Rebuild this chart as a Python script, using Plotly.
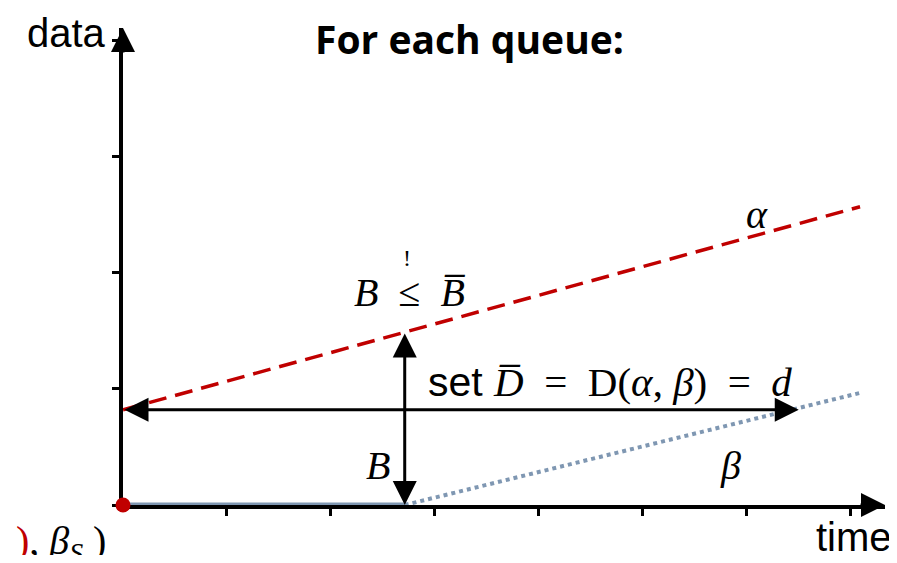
import plotly.graph_objects as go

# ---- data (axis units) ----
alpha_x = [0.0, 7.09]
alpha_y = [0.82, 2.57]
beta_flat_x = [0.0, 2.71]
beta_flat_y = [0.0, 0.0]
beta_rise_x = [2.71, 7.09]
beta_rise_y = [0.0, 0.966]
delay_y = 0.82          # horizontal delay arrow level
delay_end_x = 6.50      # where beta reaches alpha(0)
backlog_x = 2.71        # vertical backlog arrow position
backlog_top = 1.49      # alpha at backlog_x
x_ticks = [1, 2, 3, 4, 5, 6, 7]
y_ticks = [0, 1, 2, 3, 4]
x_max = 7.33
y_max = 4.11

RED = "#C00000"
BLUE = "#7F97B2"
SANS = "Liberation Sans, Arial, sans-serif"
SERIF = "Liberation Serif, DejaVu Serif, serif"
NB = "\u00a0"

fig = go.Figure()
fig.add_trace(go.Scatter(x=alpha_x, y=alpha_y, mode="lines",
                         line=dict(color=RED, width=3.5, dash="18px,9px"),
                         cliponaxis=False, hoverinfo="skip"))
fig.add_trace(go.Scatter(x=beta_flat_x, y=beta_flat_y, mode="lines",
                         line=dict(color=BLUE, width=5),
                         cliponaxis=False, hoverinfo="skip"))
fig.add_trace(go.Scatter(x=beta_rise_x, y=beta_rise_y, mode="lines",
                         line=dict(color=BLUE, width=4, dash="4px,4px"),
                         cliponaxis=False, hoverinfo="skip"))
fig.add_trace(go.Scatter(x=[0], y=[0], mode="markers",
                         marker=dict(color=RED, size=15),
                         cliponaxis=False, hoverinfo="skip"))

ann = []
AS = 1.6
# axis arrowheads
ann.append(dict(x=x_max, y=0, ax=-26, ay=0, xref="x", yref="y",
                showarrow=True, arrowhead=2, arrowsize=AS, arrowwidth=3,
                arrowcolor="black", text=""))
ann.append(dict(x=0, y=y_max, ax=0, ay=26, xref="x", yref="y",
                showarrow=True, arrowhead=2, arrowsize=AS, arrowwidth=3,
                arrowcolor="black", text=""))
# delay double arrow
ann.append(dict(x=delay_end_x, y=delay_y, ax=0, ay=delay_y,
                axref="x", ayref="y", xref="x", yref="y",
                showarrow=True, arrowhead=2, startarrowhead=2,
                arrowside="end+start", arrowsize=AS, startarrowsize=AS,
                arrowwidth=3, arrowcolor="black", text=""))
# backlog double arrow
ann.append(dict(x=backlog_x, y=0, ax=backlog_x, ay=backlog_top,
                axref="x", ayref="y", xref="x", yref="y",
                showarrow=True, arrowhead=2, startarrowhead=2,
                arrowside="end+start", arrowsize=AS, startarrowsize=AS,
                arrowwidth=3, arrowcolor="black", text=""))

def txt(x, y, t, size, family=SERIF, color="black", xref="x", yref="y",
        xanchor="center", yanchor="middle"):
    ann.append(dict(x=x, y=y, xref=xref, yref=yref, text=t, showarrow=False,
                    font=dict(size=size, family=family, color=color),
                    xanchor=xanchor, yanchor=yanchor))

txt(0.455, 0.979, "<b>For each queue:</b>", 39, family="Open Sans, sans-serif",
    xref="paper", yref="paper")
txt(-0.0197, 0.990, "data", 40, family=SANS, xref="paper", yref="paper",
    xanchor="right")
txt(0.959, -0.068, "time", 40, family=SANS, xref="paper", yref="paper")
txt(6.10, 2.50, "<i>α</i>", 40)
txt(5.84, 0.34, "<i>β</i>", 40)
txt(2.45, 0.34, "<i>B</i>", 40)
txt(2.76, 1.83, f"<i>B</i>{NB}{NB}≤{NB}{NB}<i>B̅</i>", 40)
txt(2.73, 2.13, "!", 24)
txt(4.68, 1.06,
    f"<span style='font-family:Liberation Sans'>set{NB}</span><i>D̅</i>{NB}{NB}={NB}{NB}D(<i>α</i>,{NB}<i>β</i>){NB}{NB}={NB}{NB}<i>d</i>",
    41)
txt(-0.0197, -0.080,
    "<span style='color:#C00000'>)</span>, <i>β</i><sub><i>S</i>₃</sub>)", 40,
    xref="paper", yref="paper", xanchor="right")

fig.update_layout(
    width=881, height=547,
    margin=dict(l=115, r=4, t=20, b=50),
    paper_bgcolor="white", plot_bgcolor="white",
    showlegend=False,
    annotations=ann,
    xaxis=dict(range=[0, x_max], showgrid=False, zeroline=False,
               showline=True, linecolor="black", linewidth=3.5,
               tickmode="array", tickvals=x_ticks, ticks="outside",
               ticklen=7, tickwidth=3, tickcolor="black", layer="below traces",
               showticklabels=False, fixedrange=True),
    yaxis=dict(range=[0, y_max], showgrid=False, zeroline=False,
               showline=True, linecolor="black", linewidth=3.5,
               tickmode="array", tickvals=y_ticks, ticks="outside",
               ticklen=7, tickwidth=3, tickcolor="black", layer="below traces",
               showticklabels=False, fixedrange=True),
)

fig.write_html("out.html")
